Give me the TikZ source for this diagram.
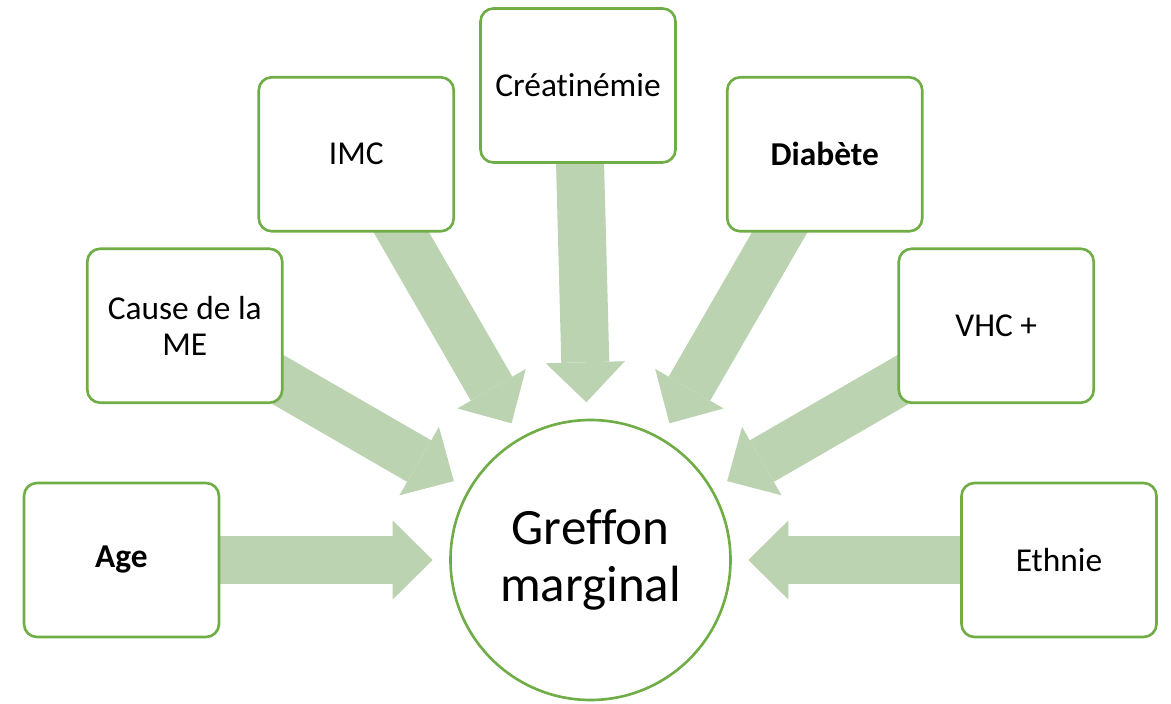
\documentclass[tikz,border=0pt]{standalone}
\usepackage{fontspec}
\setmainfont{Carlito}[Ligatures=NoCommon]
\usetikzlibrary{arrows.meta}
\usetikzlibrary{backgrounds}
\definecolor{bordvert}{HTML}{70AD47}
\definecolor{flechevert}{HTML}{BBD3B0}

\begin{document}
\begin{tikzpicture}[facteur/.style={rectangle,rounded corners=0.26cm,draw=bordvert,line width=1.5pt,fill=white,align=center,minimum width=3.9cm,minimum height=3.08cm,font=\fontsize{19}{20.5}\selectfont},
centre/.style={circle,draw=bordvert,line width=1.5pt,fill=white,align=center,minimum size=5.6cm,font=\fontsize{29}{32.5}\selectfont},
fleche/.style={draw=flechevert,line width=0.96cm,-{Triangle[width=1.58cm,length=0.8cm,line width=0pt]},shorten >=0.33cm}]

	      \useasboundingbox (-11.81,-2.86) rectangle (11.61,11.2);

	      \node[centre] at (0,0) (greffon) {Greffon\\marginal};
	      \node[facteur] at (180:9.38) (age) {\textbf{Age}};
	      \node[facteur] at (150:9.37) (cause) {Cause de la\\ME};
	      \node[facteur] at (120:9.37) (imc) {IMC};
	      \node[facteur] at (-0.25,9.49) (crea) {Créatinémie};
	      \node[facteur] at (60:9.37) (diab) {\textbf{Diabète}};
	      \node[facteur] at (30:9.37) (vhc) {VHC +};
	      \node[facteur] at (0:9.37) (eth) {Ethnie};

	      \begin{scope}[on background layer]
	      \path
	      (age.center) edge[fleche] (greffon)
	      (cause.center) edge[fleche] (greffon)
	      (imc.center) edge[fleche] (greffon)
	      (crea.center) edge[fleche] (greffon)
	      (diab.center) edge[fleche] (greffon)
	      (vhc.center) edge[fleche] (greffon)
	      (eth.center) edge[fleche] (greffon)
	      ;
	      \end{scope}

	    \end{tikzpicture}
\end{document}
